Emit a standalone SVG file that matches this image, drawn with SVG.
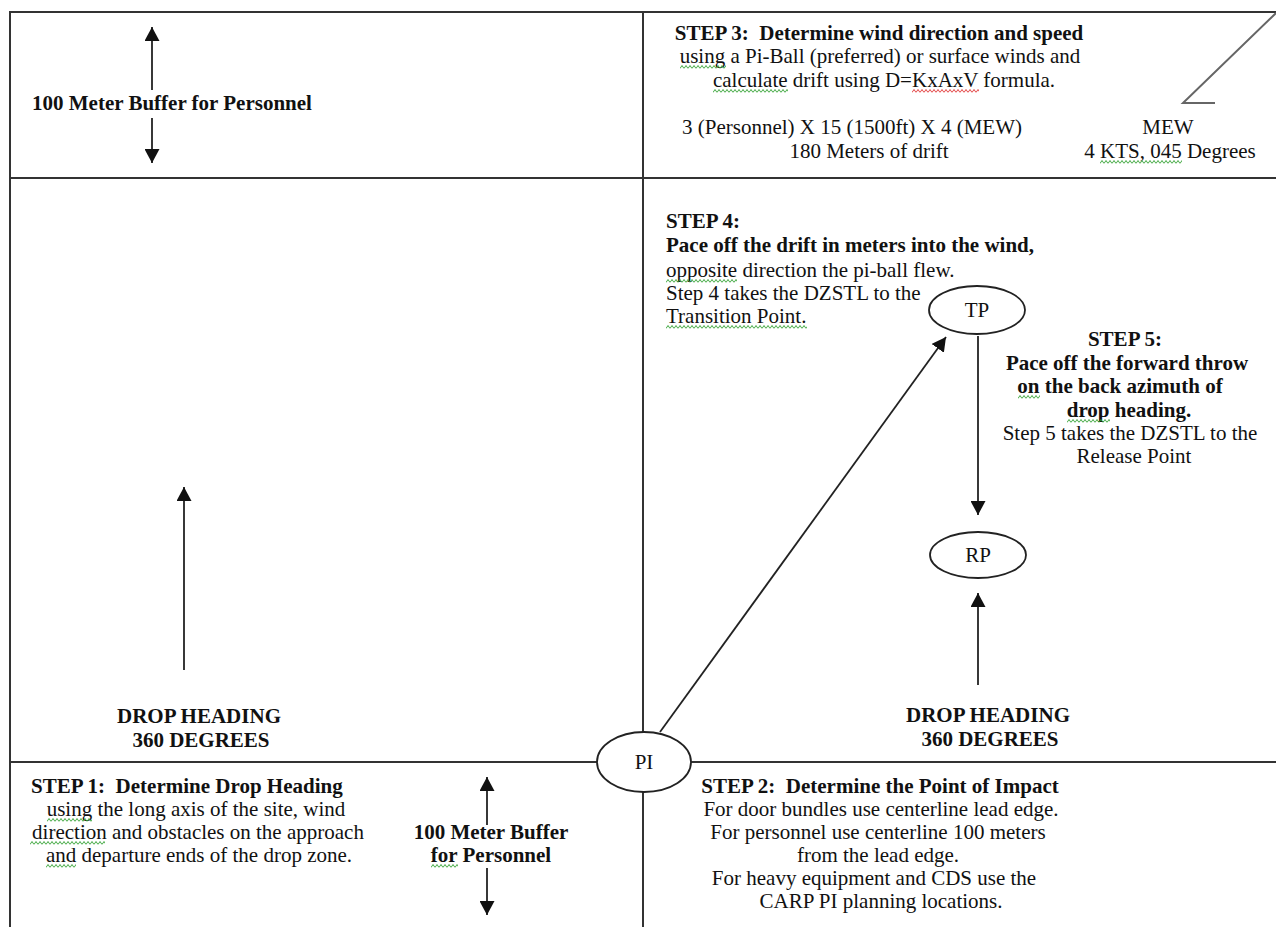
<svg xmlns="http://www.w3.org/2000/svg" width="1276" height="927" viewBox="0 0 1276 927">
  <style>
    .frame { stroke: #333; stroke-width: 2; fill: none; }
    .conn { stroke: #222; stroke-width: 1.8; fill: none; }
    .node { fill: #fff; stroke: #222; stroke-width: 1.8; }
    text { font-family: "Liberation Serif", "Times New Roman", serif; font-size: 21px; fill: #111; }
    .b { font-weight: bold; }
    .c { text-anchor: middle; }
    .wind { stroke: #666; stroke-width: 2; fill: none; }
    .sq { fill: url(#sq-green); }
    .sq-red { fill: url(#sq-red); }
  </style>
  <defs>
    <marker id="head" viewBox="0 0 14 15" refX="14" refY="7.5" markerWidth="14" markerHeight="15" markerUnits="userSpaceOnUse" orient="auto">
      <path d="M0,0 L14,7.5 L0,15 Z" fill="#111"/>
    </marker>
    <!-- wavy proofing underlines -->
    <pattern id="sq-green" patternUnits="userSpaceOnUse" width="4" height="4">
      <path d="M0,3.5 L2,0.5 L4,3.5" fill="none" stroke="#2fa02f" stroke-width="0.9"/>
    </pattern>
    <pattern id="sq-red" patternUnits="userSpaceOnUse" width="4" height="4">
      <path d="M0,3.5 L2,0.5 L4,3.5" fill="none" stroke="#e03030" stroke-width="0.9"/>
    </pattern>
  </defs>

  <rect width="1276" height="927" fill="#fff"/>

  <!-- quadrant frame -->
  <g id="frame">
    <path class="frame" d="M10,927 V12 H1276"/>
    <path class="frame" d="M10,178 H1276"/>
    <path class="frame" d="M10,762 H1276"/>
    <path class="frame" d="M643,12 V927"/>
  </g>

  <!-- wind barb -->
  <path id="wind-barb" class="wind" d="M1276,13 L1183,103 H1215"/>

  <!-- connectors -->
  <g id="connectors">
    <line class="conn" x1="152" y1="90" x2="152" y2="27" marker-end="url(#head)"/>
    <line class="conn" x1="152" y1="118" x2="152" y2="163" marker-end="url(#head)"/>
    <line class="conn" x1="184" y1="670" x2="184" y2="487" marker-end="url(#head)"/>
    <line class="conn" x1="487" y1="825" x2="487" y2="777" marker-end="url(#head)"/>
    <line class="conn" x1="487" y1="868" x2="487" y2="915" marker-end="url(#head)"/>
    <line class="conn" x1="660" y1="732" x2="946" y2="337" marker-end="url(#head)"/>
    <line class="conn" x1="978" y1="336" x2="978" y2="515" marker-end="url(#head)"/>
    <line class="conn" x1="978" y1="685" x2="978" y2="593" marker-end="url(#head)"/>
  </g>

  <!-- point nodes -->
  <g id="node-pi">
    <ellipse class="node" cx="644" cy="762" rx="47" ry="30"/>
    <text class="c" x="644" y="769">PI</text>
  </g>
  <g id="node-tp">
    <ellipse class="node" cx="977" cy="310" rx="48" ry="24"/>
    <text class="c" x="977" y="317">TP</text>
  </g>
  <g id="node-rp">
    <ellipse class="node" cx="978" cy="555" rx="48" ry="23"/>
    <text class="c" x="978" y="562">RP</text>
  </g>

  <!-- buffer note, top left -->
  <g id="buffer-top">
    <text class="b" x="32" y="110">100 Meter Buffer for Personnel</text>
  </g>

  <!-- step 3 -->
  <g id="step3">
    <text class="b c" x="879" y="40">STEP 3:&#160; Determine wind direction and speed</text>
    <text class="c" x="880" y="63">using a Pi-Ball (preferred) or surface winds and</text>
    <text class="c" x="884" y="87">calculate drift using D=KxAxV formula.</text>
    <text class="c" x="852" y="134">3 (Personnel) X 15 (1500ft) X 4 (MEW)</text>
    <text class="c" x="869" y="158">180 Meters of drift</text>
    <text class="c" x="1168" y="134">MEW</text>
    <text class="c" x="1170" y="158">4 KTS, 045 Degrees</text>
    <rect class="sq" transform="translate(680,65)" width="46" height="4"/>
    <rect class="sq" transform="translate(713,89)" width="75" height="4"/>
    <rect class="sq-red" transform="translate(912,89)" width="67" height="4"/>
    <rect class="sq" transform="translate(1100,160)" width="82" height="4"/>
  </g>

  <!-- step 4 -->
  <g id="step4">
    <text class="b" x="666" y="228">STEP 4:</text>
    <text class="b" x="666" y="252">Pace off the drift in meters into the wind,</text>
    <text x="666" y="277">opposite direction the pi-ball flew.</text>
    <text x="666" y="300">Step 4 takes the DZSTL to the</text>
    <text x="666" y="323">Transition Point.</text>
    <rect class="sq" transform="translate(666,279)" width="71" height="4"/>
    <rect class="sq" transform="translate(666,325)" width="141" height="4"/>
  </g>

  <!-- step 5 -->
  <g id="step5">
    <text class="b c" x="1125" y="346">STEP 5:</text>
    <text class="b c" x="1127" y="370">Pace off the forward throw</text>
    <text class="b c" x="1120" y="393">on the back azimuth of</text>
    <text class="b c" x="1129" y="417">drop heading.</text>
    <text class="c" x="1130" y="440">Step 5 takes the DZSTL to the</text>
    <text class="c" x="1134" y="463">Release Point</text>
    <rect class="sq" transform="translate(1018,395)" width="22" height="4"/>
    <rect class="sq" transform="translate(1067,419)" width="43" height="4"/>
  </g>

  <!-- drop heading labels -->
  <g id="heading-left">
    <text class="b c" x="199" y="723">DROP HEADING</text>
    <text class="b c" x="201" y="747">360 DEGREES</text>
  </g>
  <g id="heading-right">
    <text class="b c" x="988" y="722">DROP HEADING</text>
    <text class="b c" x="990" y="746">360 DEGREES</text>
  </g>

  <!-- step 1 -->
  <g id="step1">
    <text class="b" x="31" y="793">STEP 1:&#160; Determine Drop Heading</text>
    <text class="c" x="196" y="816">using the long axis of the site, wind</text>
    <text class="c" x="198" y="839">direction and obstacles on the approach</text>
    <text class="c" x="199" y="862">and departure ends of the drop zone.</text>
    <rect class="sq" transform="translate(47,818)" width="45" height="4"/>
    <rect class="sq" transform="translate(30,841)" width="75" height="4"/>
    <rect class="sq" transform="translate(46,864)" width="30" height="4"/>
  </g>

  <!-- buffer note, bottom -->
  <g id="buffer-bottom">
    <text class="b c" x="491" y="839">100 Meter Buffer</text>
    <text class="b c" x="491" y="862">for Personnel</text>
    <rect class="sq" transform="translate(431,864)" width="27" height="4"/>
  </g>

  <!-- step 2 -->
  <g id="step2">
    <text class="b c" x="880" y="793">STEP 2:&#160; Determine the Point of Impact</text>
    <text class="c" x="881" y="816">For door bundles use centerline lead edge.</text>
    <text class="c" x="878" y="839">For personnel use centerline 100 meters</text>
    <text class="c" x="878" y="862">from the lead edge.</text>
    <text class="c" x="874" y="885">For heavy equipment and CDS use the</text>
    <text class="c" x="881" y="908">CARP PI planning locations.</text>
  </g>
</svg>
